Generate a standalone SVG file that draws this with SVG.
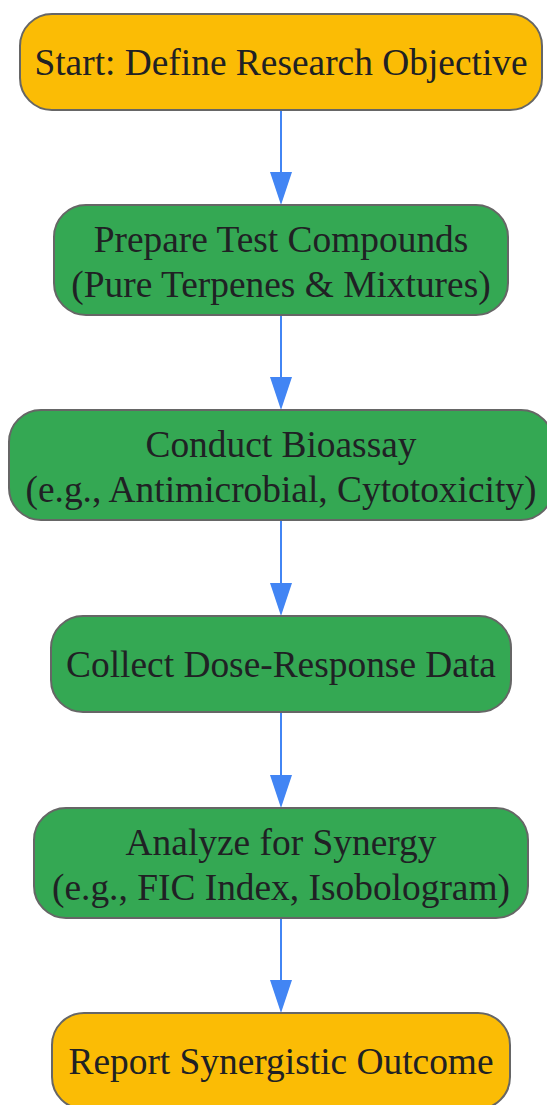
<svg xmlns="http://www.w3.org/2000/svg" width="547" height="1105" viewBox="0 0 547 1105">
<defs>
<style>
.y{fill:#FBBC05;stroke:#666;stroke-width:2}
.g{fill:#34A853;stroke:#666;stroke-width:2}
text{font-family:"Liberation Serif","Times New Roman",serif;font-size:37.4px;fill:#202124;text-anchor:middle}
.e{stroke:#4285F4;stroke-width:2;fill:none}
.h{fill:#4285F4}
</style>
</defs>
<rect width="547" height="1105" fill="#fff"/>
<g id="edges">
<path class="e" d="M281,110 V174"/><path class="h" d="M270,172 L292,172 L281,205 Z"/>
<path class="e" d="M281,315 V379"/><path class="h" d="M270,377 L292,377 L281,410 Z"/>
<path class="e" d="M281,520 V585"/><path class="h" d="M270,583 L292,583 L281,616 Z"/>
<path class="e" d="M281,712 V777"/><path class="h" d="M270,775 L292,775 L281,808 Z"/>
<path class="e" d="M281,918 V982"/><path class="h" d="M270,980 L292,980 L281,1013 Z"/>
</g>
<g id="n1"><rect class="y" x="20" y="14" width="522" height="96" rx="32"/><text x="281" y="75">Start: Define Research Objective</text></g>
<g id="n2"><rect class="g" x="54" y="205" width="454" height="110" rx="32"/><text x="281" y="252">Prepare Test Compounds</text><text x="281" y="297">(Pure Terpenes &amp; Mixtures)</text></g>
<g id="n3"><rect class="g" x="9" y="410" width="544" height="110" rx="32"/><text x="281" y="457">Conduct Bioassay</text><text x="281" y="502">(e.g., Antimicrobial, Cytotoxicity)</text></g>
<g id="n4"><rect class="g" x="51" y="616" width="460" height="96" rx="32"/><text x="281" y="677">Collect Dose-Response Data</text></g>
<g id="n5"><rect class="g" x="34" y="808" width="494" height="110" rx="32"/><text x="281" y="855">Analyze for Synergy</text><text x="281" y="900">(e.g., FIC Index, Isobologram)</text></g>
<g id="n6"><rect class="y" x="52" y="1013" width="458" height="96" rx="32"/><text x="281" y="1074">Report Synergistic Outcome</text></g>
</svg>
